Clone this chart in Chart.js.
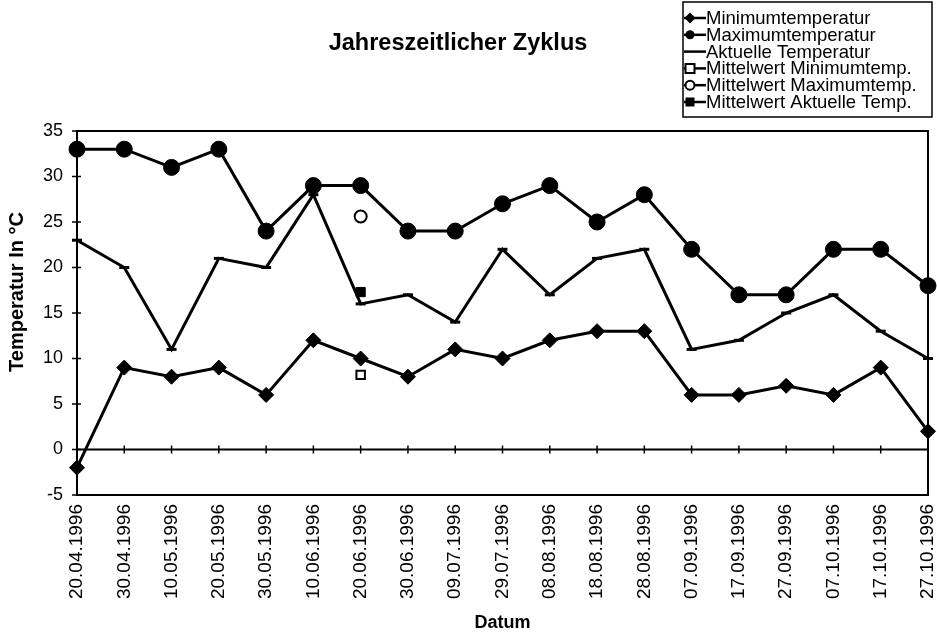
<!DOCTYPE html>
<html>
<head>
<meta charset="utf-8">
<script src="https://cdn.jsdelivr.net/npm/chart.js@4.4.0/dist/chart.umd.min.js"></script>
<style>
  html, body { margin: 0; padding: 0; background: #fff; }
  #wrap { width: 937px; height: 634px; }
</style>
</head>
<body>
<div id="wrap"><canvas id="c" width="937" height="634"></canvas></div>
<script>
const chartTitle = "Jahreszeitlicher Zyklus";
const xTitle = "Datum";
const yTitle = "Temperatur In °C";
const categories = ["20.04.1996","30.04.1996","10.05.1996","20.05.1996","30.05.1996","10.06.1996","20.06.1996","30.06.1996","09.07.1996","29.07.1996","08.08.1996","18.08.1996","28.08.1996","07.09.1996","17.09.1996","27.09.1996","07.10.1996","17.10.1996","27.10.1996"];
const minTemp    = [-2, 9, 8, 9, 6, 12, 10, 8, 11, 10, 12, 13, 13, 6, 6, 7, 6, 9, 2];
const maxTemp    = [33, 33, 31, 33, 24, 29, 29, 24, 24, 27, 29, 25, 28, 22, 17, 17, 22, 22, 18];
const actualTemp = [23, 20, 11, 21, 20, 28, 16, 17, 14, 22, 17, 21, 22, 11, 12, 15, 17, 13, 10];
const meanMin    = [null, null, null, null, null, null, 8.2, null, null, null, null, null, null, null, null, null, null, null, null];
const meanMax    = [null, null, null, null, null, null, 25.6, null, null, null, null, null, null, null, null, null, null, null, null];
const meanActual = [null, null, null, null, null, null, 17.3, null, null, null, null, null, null, null, null, null, null, null, null];
const yMin = -5, yMax = 35, yStep = 5;

const FONT = "'Liberation Sans', Arial, sans-serif";

const deco = {
  id: 'deco',
  beforeDatasetsDraw(chart) {
    const ctx = chart.ctx, a = chart.chartArea, xs = chart.scales.x, ys = chart.scales.y;
    ctx.save();
    ctx.strokeStyle = '#000';
    ctx.lineWidth = 2;
    ctx.strokeRect(a.left, a.top, a.right - a.left, a.bottom - a.top);
    const y0 = ys.getPixelForValue(0);
    ctx.beginPath();
    ctx.moveTo(a.left, y0); ctx.lineTo(a.right, y0);
    ctx.stroke();
    ctx.lineWidth = 1.5;
    ctx.beginPath();
    for (let i = 0; i < categories.length; i++) {
      const px = xs.getPixelForValue(i);
      ctx.moveTo(px, y0 - 4); ctx.lineTo(px, y0 + 4);
    }
    for (let v = yMin; v <= yMax; v += yStep) {
      const py = ys.getPixelForValue(v);
      ctx.moveTo(a.left - 5, py); ctx.lineTo(a.left + 4, py);
    }
    ctx.stroke();
    ctx.restore();
  },
  afterDraw(chart) {
    const ctx = chart.ctx;
    ctx.save();
    ctx.fillStyle = '#000';
    // title
    ctx.font = "bold 23.5px " + FONT;
    ctx.textAlign = 'center';
    ctx.textBaseline = 'middle';
    ctx.fillText(chartTitle, 458, 44);
    // y axis title
    ctx.save();
    ctx.translate(17, 292);
    ctx.rotate(-Math.PI / 2);
    ctx.font = "bold 20px " + FONT;
    ctx.fillText(yTitle, 0, 0);
    ctx.restore();
    // legend box
    const bx = 683, by = 2, bw = 249, bh = 115;
    ctx.strokeStyle = '#000';
    ctx.lineWidth = 1.5;
    ctx.strokeRect(bx, by, bw, bh);
    ctx.font = "18.5px " + FONT;
    ctx.textAlign = 'left';
    chart.data.datasets.forEach((ds, i) => {
      const cy = 18 + i * 16.8;
      ctx.strokeStyle = '#000';
      ctx.lineWidth = 2.5;
      ctx.beginPath(); ctx.moveTo(bx + 1, cy); ctx.lineTo(bx + 23, cy); ctx.stroke();
      ctx.fillStyle = ds.pointBackgroundColor || '#000';
      ctx.lineWidth = 2;
      ctx.beginPath();
      const r = 4.5, mx = bx + 7;
      if (ds.pointStyle === 'rectRot') {
        ctx.moveTo(mx, cy - r - 1); ctx.lineTo(mx + r + 1, cy); ctx.lineTo(mx, cy + r + 1); ctx.lineTo(mx - r - 1, cy); ctx.closePath();
        ctx.fill();
      } else if (ds.pointStyle === 'circle') {
        ctx.arc(mx, cy, r, 0, Math.PI * 2);
        if (ds.pointBackgroundColor === '#fff') { ctx.fill(); ctx.stroke(); } else ctx.fill();
      } else if (ds.pointStyle === 'rect') {
        ctx.rect(mx - r, cy - r, 2 * r, 2 * r);
        if (ds.pointBackgroundColor === '#fff') { ctx.fill(); ctx.stroke(); } else ctx.fill();
      }
      ctx.fillStyle = '#000';
      ctx.fillText(ds.label, bx + 23, cy + 1);
    });
    ctx.restore();
  }
};

new Chart(document.getElementById('c'), {
  type: 'line',
  data: {
    labels: categories,
    datasets: [
      { label: 'Minimumtemperatur', data: minTemp, borderColor: '#000', borderWidth: 3,
        pointStyle: 'rectRot', pointRadius: 7.5, pointBackgroundColor: '#000', pointBorderColor: '#000', pointBorderWidth: 1 },
      { label: 'Maximumtemperatur', data: maxTemp, borderColor: '#000', borderWidth: 3,
        pointStyle: 'circle', pointRadius: 8, pointBackgroundColor: '#000', pointBorderColor: '#000', pointBorderWidth: 1 },
      { label: 'Aktuelle Temperatur', data: actualTemp, borderColor: '#000', borderWidth: 3,
        pointStyle: 'line', pointRadius: 5, pointBackgroundColor: '#000', pointBorderColor: '#000', pointBorderWidth: 3 },
      { label: 'Mittelwert Minimumtemp.', data: meanMin, showLine: false, borderColor: '#000',
        pointStyle: 'rect', pointRadius: 6, pointBackgroundColor: '#fff', pointBorderColor: '#000', pointBorderWidth: 2 },
      { label: 'Mittelwert Maximumtemp.', data: meanMax, showLine: false, borderColor: '#000',
        pointStyle: 'circle', pointRadius: 6, pointBackgroundColor: '#fff', pointBorderColor: '#000', pointBorderWidth: 2 },
      { label: 'Mittelwert Aktuelle Temp.', data: meanActual, showLine: false, borderColor: '#000',
        pointStyle: 'rect', pointRadius: 6.5, pointBackgroundColor: '#000', pointBorderColor: '#000', pointBorderWidth: 1 }
    ]
  },
  options: {
    responsive: false,
    animation: false,
    layout: { padding: { top: 131, right: 8, left: 0, bottom: 0 } },
    plugins: {
      legend: { display: false },
      title: { display: false },
      tooltip: { enabled: false }
    },
    elements: { line: { tension: 0 } },
    scales: {
      x: {
        type: 'category',
        offset: false,
        grid: { display: false, drawTicks: false },
        border: { display: false },
        ticks: { color: '#000', font: { family: FONT, size: 19 }, minRotation: 90, maxRotation: 90, autoSkip: false, padding: 9 },
        title: { display: true, text: xTitle, color: '#000', font: { family: FONT, size: 18, weight: 'bold' }, padding: { top: 0, bottom: 0 } },
        afterFit(s) { s.height = 139; s.paddingLeft = 0; s.paddingRight = 0; }
      },
      y: {
        min: yMin, max: yMax,
        grid: { display: false, drawTicks: false },
        border: { display: false },
        ticks: { stepSize: yStep, color: '#000', font: { family: FONT, size: 18 }, padding: 14 },
        title: { display: false },
        afterFit(s) { s.width = 77; s.paddingTop = 0; s.paddingBottom = 0; }
      }
    }
  },
  plugins: [deco]
});
</script>
</body>
</html>
